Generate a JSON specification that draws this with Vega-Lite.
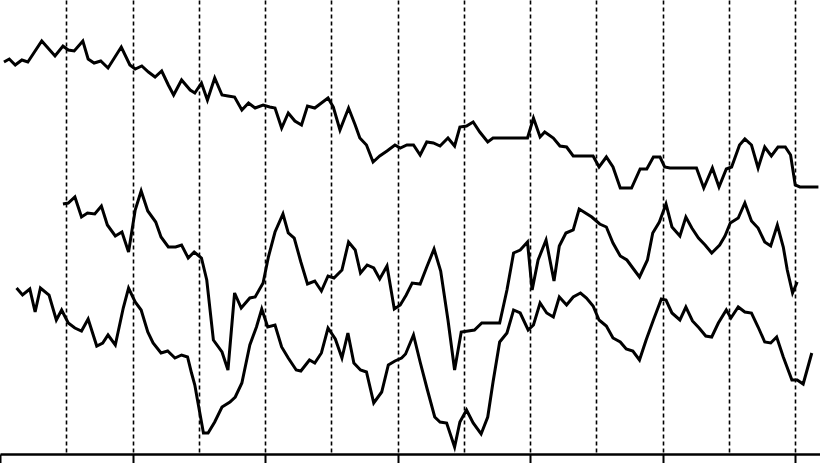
{
  "$schema": "https://vega.github.io/schema/vega-lite/v6.json",
  "width": 820,
  "height": 454,
  "autosize": {"type": "none"},
  "padding": {"left": 0, "top": 0, "right": 0, "bottom": 9},
  "background": "white",
  "config": {"view": {"stroke": null}},
  "datasets": {
    "series": [
      {"s":"A","t":0.6,"v":392},{"s":"A","t":1.4,"v":395},{"s":"A","t":2.3,"v":389},{"s":"A","t":3.3,"v":394},{"s":"A","t":4.2,"v":392},{"s":"A","t":6.3,"v":413},{"s":"A","t":8.3,"v":398},{"s":"A","t":9.5,"v":408},{"s":"A","t":10.3,"v":404},{"s":"A","t":11.2,"v":403},{"s":"A","t":12.5,"v":413},{"s":"A","t":13.3,"v":395},{"s":"A","t":14.2,"v":391},{"s":"A","t":15.2,"v":393},{"s":"A","t":16.3,"v":386},{"s":"A","t":18.3,"v":407},{"s":"A","t":19.6,"v":389},{"s":"A","t":20.4,"v":385},{"s":"A","t":21.4,"v":388},{"s":"A","t":22.4,"v":382},{"s":"A","t":23.4,"v":377},{"s":"A","t":24.4,"v":383},{"s":"A","t":25.4,"v":369},{"s":"A","t":26.2,"v":359},{"s":"A","t":27.4,"v":374},{"s":"A","t":28.7,"v":364},{"s":"A","t":29.4,"v":361},{"s":"A","t":30.4,"v":371},{"s":"A","t":31.3,"v":354},{"s":"A","t":32.4,"v":376},{"s":"A","t":33.5,"v":359},{"s":"A","t":34.4,"v":358},{"s":"A","t":35.4,"v":357},{"s":"A","t":36.5,"v":344},{"s":"A","t":37.5,"v":351},{"s":"A","t":38.5,"v":346},{"s":"A","t":39.7,"v":349},{"s":"A","t":40.7,"v":347},{"s":"A","t":41.5,"v":346},{"s":"A","t":42.5,"v":326},{"s":"A","t":43.5,"v":341},{"s":"A","t":44.5,"v":333},{"s":"A","t":45.5,"v":329},{"s":"A","t":46.4,"v":348},{"s":"A","t":47.5,"v":346},{"s":"A","t":48.5,"v":351},{"s":"A","t":49.5,"v":356},{"s":"A","t":50.3,"v":347},{"s":"A","t":51.3,"v":324},{"s":"A","t":52.6,"v":346},{"s":"A","t":53.6,"v":329},{"s":"A","t":54.3,"v":316},{"s":"A","t":55.3,"v":309},{"s":"A","t":56.3,"v":292},{"s":"A","t":57.3,"v":298},{"s":"A","t":58.4,"v":303},{"s":"A","t":59.6,"v":309},{"s":"A","t":60.4,"v":306},{"s":"A","t":61.4,"v":309},{"s":"A","t":62.4,"v":309},{"s":"A","t":63.4,"v":299},{"s":"A","t":64.4,"v":312},{"s":"A","t":65.4,"v":311},{"s":"A","t":66.4,"v":308},{"s":"A","t":67.6,"v":316},{"s":"A","t":68.6,"v":308},{"s":"A","t":69.4,"v":327},{"s":"A","t":70.4,"v":328},{"s":"A","t":71.4,"v":332},{"s":"A","t":72.4,"v":322},{"s":"A","t":73.6,"v":312},{"s":"A","t":74.4,"v":316},{"s":"A","t":75.7,"v":316},{"s":"A","t":79.6,"v":316},{"s":"A","t":80.5,"v":336},{"s":"A","t":81.5,"v":317},{"s":"A","t":82.2,"v":322},{"s":"A","t":83.5,"v":316},{"s":"A","t":84.5,"v":308},{"s":"A","t":85.5,"v":307},{"s":"A","t":86.5,"v":298},{"s":"A","t":89.5,"v":298},{"s":"A","t":90.4,"v":287},{"s":"A","t":91.5,"v":297},{"s":"A","t":92.5,"v":287},{"s":"A","t":93.6,"v":266},{"s":"A","t":95.3,"v":266},{"s":"A","t":96.6,"v":285},{"s":"A","t":97.6,"v":285},{"s":"A","t":98.6,"v":297},{"s":"A","t":99.6,"v":297},{"s":"A","t":100.3,"v":287},{"s":"A","t":101.1,"v":286},{"s":"A","t":105.1,"v":286},{"s":"A","t":106.2,"v":266},{"s":"A","t":107.5,"v":286},{"s":"A","t":108.5,"v":267},{"s":"A","t":109.6,"v":285},{"s":"A","t":110.4,"v":287},{"s":"A","t":111.6,"v":309},{"s":"A","t":112.4,"v":315},{"s":"A","t":113.4,"v":309},{"s":"A","t":114.4,"v":286},{"s":"A","t":115.4,"v":307},{"s":"A","t":116.4,"v":298},{"s":"A","t":117.4,"v":307},{"s":"A","t":118.5,"v":307},{"s":"A","t":119.3,"v":299},{"s":"A","t":120.0,"v":269},{"s":"A","t":120.7,"v":267},{"s":"A","t":123.5,"v":267},
      {"s":"B","t":9.5,"v":250},{"s":"B","t":10.3,"v":251},{"s":"B","t":11.3,"v":257},{"s":"B","t":12.3,"v":237},{"s":"B","t":13.2,"v":241},{"s":"B","t":14.3,"v":240},{"s":"B","t":15.3,"v":248},{"s":"B","t":16.2,"v":229},{"s":"B","t":17.4,"v":218},{"s":"B","t":18.4,"v":222},{"s":"B","t":19.4,"v":202},{"s":"B","t":20.4,"v":244},{"s":"B","t":21.3,"v":263},{"s":"B","t":22.3,"v":243},{"s":"B","t":23.5,"v":232},{"s":"B","t":24.3,"v":217},{"s":"B","t":25.4,"v":207},{"s":"B","t":26.5,"v":207},{"s":"B","t":27.4,"v":209},{"s":"B","t":28.4,"v":196},{"s":"B","t":29.3,"v":202},{"s":"B","t":30.4,"v":196},{"s":"B","t":31.2,"v":174},{"s":"B","t":32.2,"v":114},{"s":"B","t":33.5,"v":102},{"s":"B","t":34.4,"v":84},{"s":"B","t":35.4,"v":161},{"s":"B","t":36.4,"v":146},{"s":"B","t":37.7,"v":156},{"s":"B","t":38.5,"v":157},{"s":"B","t":39.7,"v":171},{"s":"B","t":40.5,"v":197},{"s":"B","t":41.5,"v":222},{"s":"B","t":42.7,"v":240},{"s":"B","t":43.5,"v":221},{"s":"B","t":44.4,"v":216},{"s":"B","t":45.4,"v":192},{"s":"B","t":46.4,"v":170},{"s":"B","t":47.5,"v":173},{"s":"B","t":48.5,"v":163},{"s":"B","t":49.5,"v":178},{"s":"B","t":50.4,"v":176},{"s":"B","t":51.6,"v":184},{"s":"B","t":52.6,"v":212},{"s":"B","t":53.6,"v":204},{"s":"B","t":54.4,"v":181},{"s":"B","t":55.4,"v":189},{"s":"B","t":56.4,"v":186},{"s":"B","t":57.3,"v":175},{"s":"B","t":58.4,"v":188},{"s":"B","t":59.5,"v":145},{"s":"B","t":60.4,"v":149},{"s":"B","t":61.3,"v":159},{"s":"B","t":62.2,"v":171},{"s":"B","t":63.4,"v":170},{"s":"B","t":64.4,"v":187},{"s":"B","t":65.5,"v":205},{"s":"B","t":66.5,"v":183},{"s":"B","t":67.6,"v":134},{"s":"B","t":68.6,"v":84},{"s":"B","t":69.6,"v":122},{"s":"B","t":71.6,"v":124},{"s":"B","t":72.7,"v":131},{"s":"B","t":75.4,"v":131},{"s":"B","t":76.5,"v":164},{"s":"B","t":77.5,"v":201},{"s":"B","t":78.5,"v":204},{"s":"B","t":79.6,"v":212},{"s":"B","t":80.3,"v":164},{"s":"B","t":81.2,"v":194},{"s":"B","t":82.4,"v":214},{"s":"B","t":83.6,"v":173},{"s":"B","t":84.4,"v":208},{"s":"B","t":85.4,"v":221},{"s":"B","t":86.5,"v":224},{"s":"B","t":87.4,"v":245},{"s":"B","t":89.3,"v":237},{"s":"B","t":90.5,"v":230},{"s":"B","t":91.5,"v":227},{"s":"B","t":92.5,"v":211},{"s":"B","t":93.6,"v":198},{"s":"B","t":94.6,"v":194},{"s":"B","t":95.6,"v":185},{"s":"B","t":96.5,"v":177},{"s":"B","t":97.7,"v":194},{"s":"B","t":98.5,"v":221},{"s":"B","t":99.5,"v":232},{"s":"B","t":100.5,"v":250},{"s":"B","t":101.4,"v":227},{"s":"B","t":102.6,"v":218},{"s":"B","t":103.5,"v":237},{"s":"B","t":104.4,"v":226},{"s":"B","t":105.4,"v":216},{"s":"B","t":106.4,"v":209},{"s":"B","t":107.4,"v":201},{"s":"B","t":108.6,"v":209},{"s":"B","t":109.4,"v":218},{"s":"B","t":110.2,"v":231},{"s":"B","t":111.4,"v":236},{"s":"B","t":112.4,"v":251},{"s":"B","t":113.4,"v":233},{"s":"B","t":114.4,"v":226},{"s":"B","t":115.4,"v":212},{"s":"B","t":116.3,"v":208},{"s":"B","t":117.3,"v":229},{"s":"B","t":118.2,"v":207},{"s":"B","t":118.8,"v":184},{"s":"B","t":119.6,"v":161},{"s":"B","t":120.3,"v":172},
      {"s":"C","t":2.5,"v":166},{"s":"C","t":3.4,"v":159},{"s":"C","t":4.5,"v":165},{"s":"C","t":5.3,"v":142},{"s":"C","t":6.1,"v":166},{"s":"C","t":7.4,"v":159},{"s":"C","t":8.5,"v":134},{"s":"C","t":9.3,"v":144},{"s":"C","t":10.3,"v":131},{"s":"C","t":11.3,"v":126},{"s":"C","t":12.3,"v":123},{"s":"C","t":13.3,"v":135},{"s":"C","t":14.6,"v":108},{"s":"C","t":15.5,"v":111},{"s":"C","t":16.3,"v":119},{"s":"C","t":17.4,"v":109},{"s":"C","t":18.6,"v":146},{"s":"C","t":19.4,"v":166},{"s":"C","t":20.4,"v":152},{"s":"C","t":21.3,"v":144},{"s":"C","t":22.3,"v":122},{"s":"C","t":23.1,"v":111},{"s":"C","t":24.3,"v":101},{"s":"C","t":25.3,"v":103},{"s":"C","t":26.4,"v":96},{"s":"C","t":27.4,"v":99},{"s":"C","t":28.3,"v":97},{"s":"C","t":28.9,"v":81},{"s":"C","t":29.4,"v":69},{"s":"C","t":29.8,"v":54},{"s":"C","t":30.7,"v":21},{"s":"C","t":31.4,"v":21},{"s":"C","t":32.4,"v":32},{"s":"C","t":33.5,"v":47},{"s":"C","t":34.7,"v":52},{"s":"C","t":35.5,"v":57},{"s":"C","t":36.5,"v":71},{"s":"C","t":37.7,"v":109},{"s":"C","t":38.7,"v":127},{"s":"C","t":39.5,"v":145},{"s":"C","t":40.4,"v":127},{"s":"C","t":41.5,"v":129},{"s":"C","t":42.5,"v":107},{"s":"C","t":43.5,"v":96},{"s":"C","t":44.7,"v":84},{"s":"C","t":45.4,"v":83},{"s":"C","t":46.7,"v":94},{"s":"C","t":47.5,"v":91},{"s":"C","t":48.5,"v":101},{"s":"C","t":49.5,"v":126},{"s":"C","t":50.6,"v":115},{"s":"C","t":51.6,"v":96},{"s":"C","t":52.5,"v":121},{"s":"C","t":53.4,"v":91},{"s":"C","t":54.4,"v":84},{"s":"C","t":55.3,"v":82},{"s":"C","t":56.4,"v":51},{"s":"C","t":57.6,"v":62},{"s":"C","t":58.6,"v":89},{"s":"C","t":59.6,"v":93},{"s":"C","t":60.6,"v":96},{"s":"C","t":61.2,"v":100},{"s":"C","t":62.4,"v":119},{"s":"C","t":63.4,"v":92},{"s":"C","t":64.5,"v":64},{"s":"C","t":65.6,"v":37},{"s":"C","t":66.4,"v":32},{"s":"C","t":67.4,"v":31},{"s":"C","t":68.6,"v":7},{"s":"C","t":69.4,"v":32},{"s":"C","t":70.4,"v":44},{"s":"C","t":71.4,"v":31},{"s":"C","t":72.6,"v":20},{"s":"C","t":73.6,"v":37},{"s":"C","t":74.4,"v":72},{"s":"C","t":75.4,"v":112},{"s":"C","t":76.5,"v":121},{"s":"C","t":77.5,"v":144},{"s":"C","t":78.5,"v":141},{"s":"C","t":79.7,"v":124},{"s":"C","t":80.5,"v":129},{"s":"C","t":81.5,"v":151},{"s":"C","t":82.5,"v":141},{"s":"C","t":83.5,"v":137},{"s":"C","t":84.4,"v":157},{"s":"C","t":85.5,"v":149},{"s":"C","t":86.5,"v":157},{"s":"C","t":87.6,"v":161},{"s":"C","t":88.5,"v":156},{"s":"C","t":89.5,"v":148},{"s":"C","t":90.4,"v":134},{"s":"C","t":91.5,"v":128},{"s":"C","t":92.5,"v":116},{"s":"C","t":93.6,"v":112},{"s":"C","t":94.5,"v":105},{"s":"C","t":95.5,"v":103},{"s":"C","t":96.5,"v":94},{"s":"C","t":97.5,"v":114},{"s":"C","t":98.6,"v":134},{"s":"C","t":99.8,"v":155},{"s":"C","t":100.5,"v":154},{"s":"C","t":101.4,"v":141},{"s":"C","t":102.6,"v":134},{"s":"C","t":103.5,"v":147},{"s":"C","t":104.5,"v":133},{"s":"C","t":105.5,"v":126},{"s":"C","t":106.5,"v":118},{"s":"C","t":107.4,"v":117},{"s":"C","t":108.4,"v":131},{"s":"C","t":109.6,"v":144},{"s":"C","t":110.3,"v":136},{"s":"C","t":111.4,"v":147},{"s":"C","t":112.4,"v":142},{"s":"C","t":113.4,"v":141},{"s":"C","t":114.4,"v":127},{"s":"C","t":115.4,"v":112},{"s":"C","t":116.3,"v":111},{"s":"C","t":117.2,"v":117},{"s":"C","t":118.2,"v":97},{"s":"C","t":119.5,"v":74},{"s":"C","t":120.3,"v":74},{"s":"C","t":121.2,"v":70},{"s":"C","t":122.5,"v":101}
    ]
  },
  "data": {"name": "series"},
  "mark": {"type": "line", "color": "black", "strokeWidth": 3},
  "encoding": {
    "x": {
      "field": "t",
      "type": "quantitative",
      "scale": {"domain": [0, 123.74], "nice": false, "zero": false},
      "axis": {
        "title": null,
        "labels": false,
        "values": [0, 10, 20, 30, 40, 50, 60, 70, 80, 90, 100, 110, 120],
        "grid": true,
        "gridColor": "black",
        "gridDash": [4, 3],
        "gridWidth": 1.6,
        "gridOpacity": {"condition": {"test": "datum.value === 0", "value": 0}, "value": 1},
        "domain": true,
        "domainColor": "black",
        "domainWidth": 2.5,
        "ticks": true,
        "tickColor": "black",
        "tickWidth": 2,
        "tickSize": 9,
        "tickOpacity": {"condition": {"test": "datum.value % 20 === 0", "value": 1}, "value": 0}
      }
    },
    "y": {
      "field": "v",
      "type": "quantitative",
      "scale": {"domain": [0, 454], "nice": false, "zero": false},
      "axis": null
    },
    "detail": {"field": "s", "type": "nominal"}
  }
}
